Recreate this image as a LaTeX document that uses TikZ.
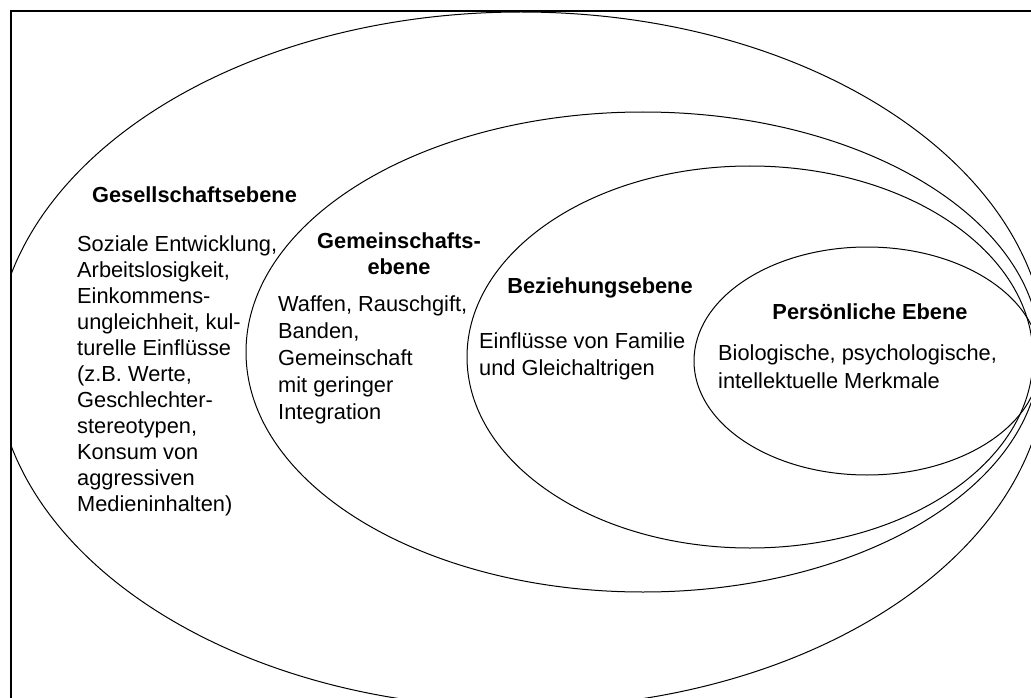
\documentclass[tikz,border=0pt]{standalone}
\usepackage{fontspec}
\setmainfont{Liberation Sans}
\usetikzlibrary{positioning}

\begin{document}
\begin{tikzpicture}[x=1pt,y=-1pt]
		\tikzstyle{ring}=[line width=1pt]
		\tikzstyle{head}=[font=\fontsize{21.8}{26}\selectfont\bfseries, align=center, anchor=base, inner sep=0pt]
		\tikzstyle{body}=[font=\fontsize{21.8}{26}\selectfont, align=left, anchor=base west, inner sep=0pt]
		\useasboundingbox (0,0) rectangle (1031,698);
		\clip (0,0) rectangle (1031,698);
		\begin{scope}
			\clip (11,11) rectangle (1100,760);
			\draw [ring] (521,360) ellipse [x radius=526pt, y radius=348pt];
			\draw [ring] (643,352) ellipse [x radius=397pt, y radius=240pt];
			\draw [ring] (750,357) ellipse [x radius=283pt, y radius=191pt];
			\draw [ring] (867,361) ellipse [x radius=173pt, y radius=114pt];
		\end{scope}
		\draw [line width=2pt] (11,11) rectangle (1100,760);
		% the base anchor sits on the last line
		\node [head] (gesHead) at (194.5,202) {Gesellschaftsebene};
		\node [body] (gesText) at (77,511.7) {Soziale Entwicklung,\\Arbeitslosigkeit,\\Einkommens-\\ungleichheit, kul-\\turelle Einflüsse\\(z.B. Werte,\\Geschlechter-\\stereotypen,\\Konsum von\\aggressiven\\Medieninhalten)};
		\node [head] (gemHead) at (399,274) {Gemeinschafts-\\ebene};
		\node [body, font=\fontsize{21.8}{27}\selectfont] (gemText) at (278,419) {Waffen, Rauschgift,\\Banden,\\Gemeinschaft\\mit geringer\\Integration};
		\node [head] (bezHead) at (600,293) {Beziehungsebene};
		\node [body, font=\fontsize{21.8}{27}\selectfont] (bezText) at (479,375) {Einflüsse von Familie\\und Gleichaltrigen};
		\node [head] (perHead) at (870,319) {Persönliche Ebene};
		\node [body, font=\fontsize{21.8}{28}\selectfont] (perText) at (718,388) {Biologische, psychologische,\\intellektuelle Merkmale};
\end{tikzpicture}
\end{document}
